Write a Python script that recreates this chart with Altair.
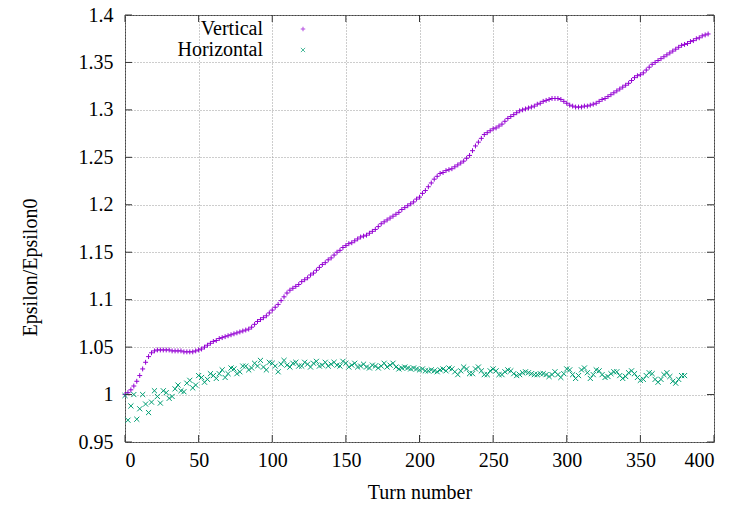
import altair as alt
import pandas as pd

turns_h = list(range(0, 381, 2))
turns_v = list(range(0, 397, 2))

vertical = [
    1.000, 1.002, 1.005, 1.009, 1.014, 1.020, 1.027, 1.034, 1.040, 1.044,
    1.046, 1.047, 1.047, 1.047, 1.047, 1.047, 1.046, 1.046, 1.046, 1.046,
    1.045, 1.045, 1.045, 1.045, 1.046, 1.047, 1.048, 1.050, 1.052, 1.054,
    1.056, 1.057, 1.059, 1.060, 1.061, 1.062, 1.063, 1.064, 1.065, 1.066,
    1.067, 1.068, 1.069, 1.071, 1.074, 1.077, 1.079, 1.081, 1.083, 1.086,
    1.089, 1.092, 1.095, 1.099, 1.103, 1.107, 1.110, 1.112, 1.114, 1.116,
    1.119, 1.121, 1.123, 1.126, 1.128, 1.131, 1.134, 1.137, 1.139, 1.142,
    1.144, 1.147, 1.150, 1.152, 1.155, 1.157, 1.159, 1.160, 1.162, 1.164,
    1.166, 1.167, 1.168, 1.170, 1.172, 1.174, 1.177, 1.180, 1.182, 1.184,
    1.186, 1.188, 1.190, 1.192, 1.195, 1.197, 1.199, 1.201, 1.203, 1.206,
    1.208, 1.212, 1.215, 1.219, 1.223, 1.227, 1.230, 1.233, 1.234, 1.236,
    1.237, 1.238, 1.240, 1.242, 1.244, 1.246, 1.249, 1.252, 1.257, 1.262,
    1.266, 1.270, 1.274, 1.276, 1.278, 1.280, 1.281, 1.283, 1.285, 1.288,
    1.291, 1.293, 1.295, 1.297, 1.299, 1.300, 1.301, 1.302, 1.303, 1.304,
    1.306, 1.307, 1.309, 1.310, 1.311, 1.312, 1.312, 1.312, 1.311, 1.309,
    1.307, 1.305, 1.304, 1.303, 1.303, 1.303, 1.304, 1.304, 1.305, 1.306,
    1.307, 1.309, 1.311, 1.312, 1.314, 1.316, 1.318, 1.320, 1.322, 1.324,
    1.326, 1.328, 1.331, 1.334, 1.336, 1.337, 1.339, 1.342, 1.345, 1.348,
    1.350, 1.352, 1.354, 1.356, 1.358, 1.360, 1.362, 1.364, 1.366, 1.368,
    1.369, 1.370, 1.372, 1.373, 1.375, 1.376, 1.378, 1.379, 1.380,
]

horizontal = [
    0.999, 0.973, 0.988, 1.000, 0.974, 0.985, 1.000, 0.990, 0.981, 0.992,
    1.004, 0.998, 0.991, 1.004, 1.002, 0.996, 0.998, 1.006, 1.010, 1.004,
    1.003, 1.012, 1.015, 1.007, 1.010, 1.020, 1.018, 1.013, 1.016, 1.022,
    1.020, 1.017, 1.022, 1.026, 1.018, 1.022, 1.028, 1.027, 1.022, 1.024,
    1.030, 1.030, 1.026, 1.028, 1.033, 1.030, 1.036, 1.029, 1.026, 1.034,
    1.033, 1.030, 1.024, 1.032, 1.036, 1.031, 1.029, 1.033, 1.034, 1.030,
    1.030, 1.034, 1.032, 1.029, 1.033, 1.035, 1.030, 1.031, 1.034, 1.030,
    1.032, 1.034, 1.031, 1.030, 1.035, 1.033, 1.029, 1.031, 1.033, 1.029,
    1.030, 1.032, 1.029, 1.028, 1.031, 1.030, 1.028, 1.030, 1.033, 1.029,
    1.031, 1.033, 1.029, 1.027, 1.028, 1.029, 1.028, 1.027, 1.028, 1.027,
    1.026, 1.027, 1.025, 1.025, 1.026, 1.025, 1.024, 1.026, 1.027, 1.025,
    1.028, 1.027, 1.024, 1.021, 1.025, 1.029, 1.027, 1.022, 1.022, 1.027,
    1.029, 1.025, 1.021, 1.021, 1.025, 1.027, 1.025, 1.021, 1.021, 1.024,
    1.026, 1.025, 1.022, 1.020, 1.021, 1.023, 1.024, 1.023, 1.022, 1.021,
    1.021, 1.022, 1.022, 1.021, 1.019, 1.021, 1.024, 1.021, 1.018, 1.022,
    1.027, 1.026, 1.021, 1.017, 1.020, 1.026, 1.028, 1.023, 1.017, 1.021,
    1.026, 1.025, 1.021, 1.018, 1.019, 1.022, 1.024, 1.024, 1.020, 1.017,
    1.019, 1.023, 1.025, 1.022, 1.018, 1.015, 1.016, 1.020, 1.023, 1.022,
    1.016, 1.013, 1.016, 1.021, 1.023, 1.019, 1.014, 1.012, 1.016, 1.020,
    1.020,
]

x_ticks = [0, 50, 100, 150, 200, 250, 300, 350, 400]
y_ticks = [0.95, 1.0, 1.05, 1.1, 1.15, 1.2, 1.25, 1.3, 1.35, 1.4]
legend_labels = ["Vertical", "Horizontal"]

PURPLE = "#9400d3"
GREEN = "#009e73"
FONT = "Liberation Serif"
FS = 20

df_v = pd.DataFrame({"turn": turns_v, "eps": vertical})
df_h = pd.DataFrame({"turn": turns_h, "eps": horizontal})

xs = alt.Scale(domain=[0, 400], nice=False, zero=False)
ys = alt.Scale(domain=[0.95, 1.4], nice=False, zero=False)

x_enc = alt.X("turn:Q", scale=xs, axis=alt.Axis(
    values=x_ticks, title="Turn number", grid=True, domain=False, ticks=False,
    labelPadding=8, titlePadding=12, format="d"))
y_enc = alt.Y("eps:Q", scale=ys, axis=alt.Axis(
    values=y_ticks, title="Epsilon/Epsilon0", grid=True, domain=False, ticks=False,
    labelPadding=12, titleX=-95, titleY=252, titleAngle=-90, titleBaseline="middle",
    labelExpr="format(datum.value, '.3~f')"))

plus_path = "M-1,0L1,0M0,-1L0,1"
x_path = "M-1,-1L1,1M-1,1L1,-1"

vert = alt.Chart(df_v).mark_point(
    shape=plus_path, filled=False, stroke=PURPLE, strokeWidth=1, size=24, opacity=1
).encode(x=x_enc, y=y_enc)

horiz = alt.Chart(df_h).mark_point(
    shape=x_path, filled=False, stroke=GREEN, strokeWidth=1, size=26, opacity=1
).encode(x="turn:Q", y="eps:Q")

# inward ticks on all four sides
df_xt = pd.DataFrame({"t": x_ticks})
df_yt = pd.DataFrame({"t": y_ticks})
tick_col = "#333333"
xt_bottom = alt.Chart(df_xt).mark_rule(color=tick_col, strokeWidth=1).encode(
    x=alt.X("t:Q", scale=xs), y=alt.value(427), y2=alt.value(420))
xt_top = alt.Chart(df_xt).mark_rule(color=tick_col, strokeWidth=1).encode(
    x=alt.X("t:Q", scale=xs), y=alt.value(0), y2=alt.value(7))
yt_left = alt.Chart(df_yt).mark_rule(color=tick_col, strokeWidth=1).encode(
    y=alt.Y("t:Q", scale=ys), x=alt.value(0), x2=alt.value(7))
yt_right = alt.Chart(df_yt).mark_rule(color=tick_col, strokeWidth=1).encode(
    y=alt.Y("t:Q", scale=ys), x=alt.value(589), x2=alt.value(582))

# legend (gnuplot style: label then sample)
leg_v_text = alt.Chart(pd.DataFrame({"l": [legend_labels[0]]})).mark_text(
    align="right", baseline="middle", font=FONT, fontSize=FS, color="black"
).encode(text="l:N", x=alt.value(138), y=alt.value(14))
leg_h_text = alt.Chart(pd.DataFrame({"l": [legend_labels[1]]})).mark_text(
    align="right", baseline="middle", font=FONT, fontSize=FS, color="black"
).encode(text="l:N", x=alt.value(138), y=alt.value(35))
leg_v_pt = alt.Chart(pd.DataFrame({"l": [legend_labels[0]]})).mark_point(
    shape=plus_path, filled=False, stroke=PURPLE, strokeWidth=1, size=20
).encode(x=alt.value(178), y=alt.value(14))
leg_h_pt = alt.Chart(pd.DataFrame({"l": [legend_labels[1]]})).mark_point(
    shape=x_path, filled=False, stroke=GREEN, strokeWidth=1, size=18
).encode(x=alt.value(178), y=alt.value(35))

chart = alt.layer(
    vert, horiz, xt_bottom, xt_top, yt_left, yt_right,
    leg_v_text, leg_h_text, leg_v_pt, leg_h_pt
).properties(
    width=589, height=427,
    autosize=alt.AutoSizeParams(type="none"),
    padding={"left": 117, "top": 7, "right": 15, "bottom": 60},
).configure_view(
    stroke="#444444", strokeWidth=1
).configure_axis(
    labelFont=FONT, titleFont=FONT, labelFontSize=FS, titleFontSize=FS,
    labelColor="black", titleColor="black", titleFontWeight="normal",
    gridColor="#9a9a9a", gridDash=[1, 2], gridWidth=1, gridOpacity=1,
)

chart.save("out.html", embed_options={"renderer": "svg", "actions": False})
